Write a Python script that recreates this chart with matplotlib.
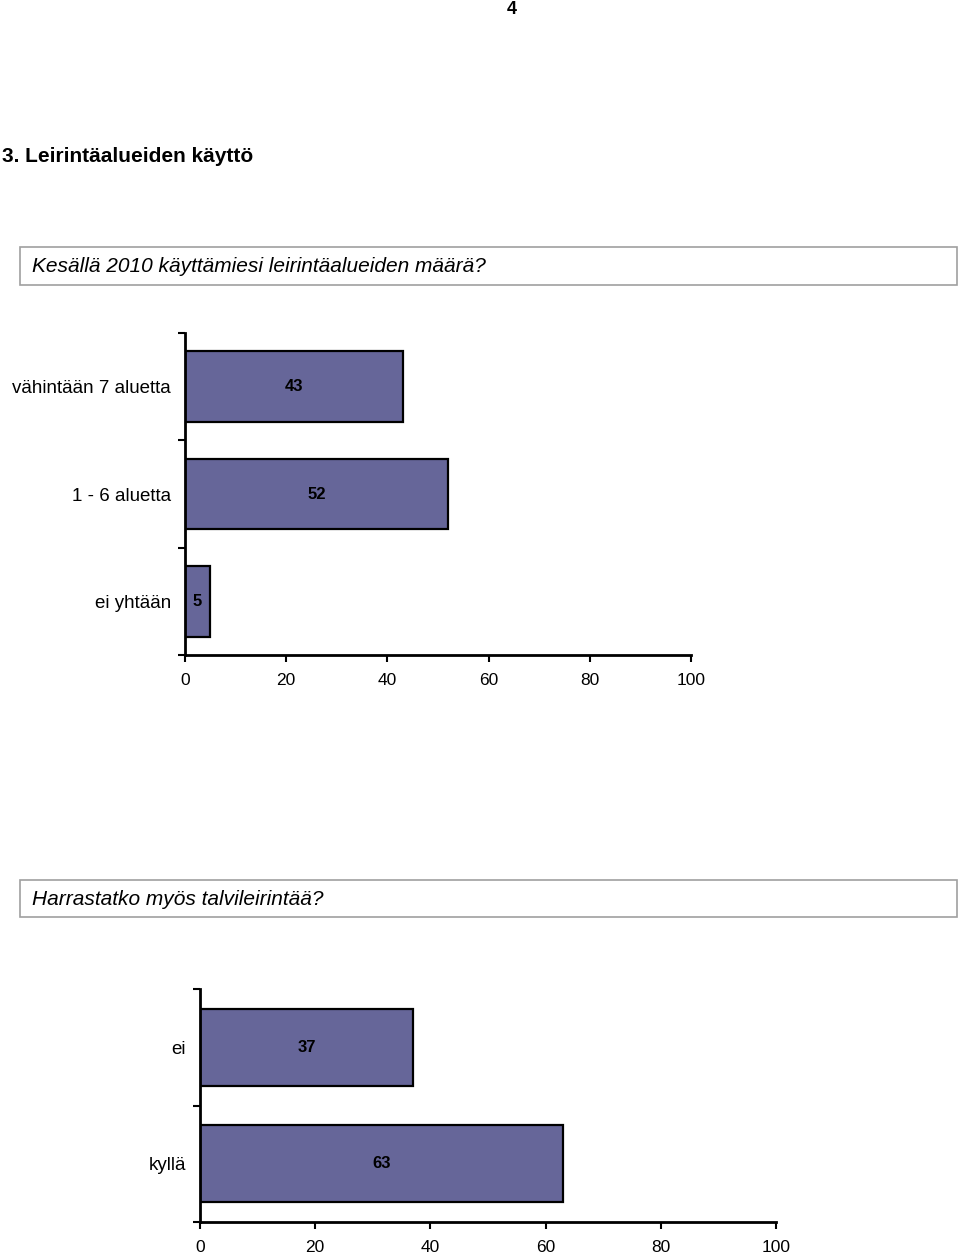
import matplotlib
matplotlib.use("Agg")
import matplotlib.pyplot as plt
from matplotlib.patches import Rectangle

# data
q1_title = "Kesällä 2010 käyttämiesi leirintäalueiden määrä?"
q1_labels = ["vähintään 7 aluetta", "1 - 6 aluetta", "ei yhtään"]
q1_values = [43, 52, 5]

q2_title = "Harrastatko myös talvileirintää?"
q2_labels = ["ei", "kyllä"]
q2_values = [37, 63]

x_ticks = [0, 20, 40, 60, 80, 100]

page_no = "4"
heading = "3. Leirintäalueiden käyttö"

W, H = 960, 1256
bar_color = "#666699"
plt.rcParams["font.family"] = ["Liberation Sans", "DejaVu Sans"]

fig = plt.figure(figsize=(W / 100, H / 100), dpi=100)
fig.patch.set_facecolor("white")


def px_axes(x0, y0, x1, y1):
    # pixel box (top-left origin) -> figure axes
    return fig.add_axes([x0 / W, 1 - y1 / H, (x1 - x0) / W, (y1 - y0) / H])


def fig_text(x, y, s, **kw):
    fig.text(x / W, 1 - y / H, s, **kw)


def question_box(y0, y1, text):
    fig.patches.append(Rectangle((20 / W, 1 - y1 / H), (957 - 20) / W, (y1 - y0) / H,
                                 transform=fig.transFigure, facecolor="white",
                                 edgecolor="#a0a0a0", linewidth=1.2))
    fig_text(32, (y0 + y1) / 2 + 1, text, fontsize=15, style="italic",
             ha="left", va="center")


def bar_chart(box, labels, values):
    ax = px_axes(*box)
    n = len(labels)
    pos = list(range(n))
    ax.barh(pos, values, height=0.66, color=bar_color, edgecolor="black",
            linewidth=1.6)
    ax.set_ylim(n - 0.5, -0.5)
    ax.set_xlim(0, 100)
    ax.set_xticks(x_ticks)
    ax.set_xticklabels([str(t) for t in x_ticks], fontsize=12.5)
    ax.set_yticks([p - 0.5 for p in range(n + 1)])
    ax.set_yticklabels([])
    ax.set_yticks(pos, minor=True)
    ax.set_yticklabels(labels, minor=True, fontsize=13.5)
    ax.tick_params(axis="y", which="minor", length=0, pad=10)
    ax.tick_params(axis="y", which="major", length=5, width=1.5, direction="out")
    ax.tick_params(axis="x", length=5, width=1.5, direction="out", pad=8)
    for s in ["top", "right"]:
        ax.spines[s].set_visible(False)
    for s in ["left", "bottom"]:
        ax.spines[s].set_linewidth(2)
    for p, v in zip(pos, values):
        ax.text(v / 2, p, str(v), ha="center", va="center", fontsize=12,
                fontweight="bold")
    ax.patch.set_alpha(0)
    return ax


fig_text(512, 9, page_no, fontsize=13, fontweight="bold", ha="center", va="center")
fig_text(2, 157, heading, fontsize=15, fontweight="bold", ha="left", va="center")

question_box(247, 285, q1_title)
bar_chart((185, 333, 691, 655), q1_labels, q1_values)

question_box(880, 917, q2_title)
bar_chart((200, 989, 776, 1222), q2_labels, q2_values)

fig.savefig("out.png", dpi=100, facecolor="white")
